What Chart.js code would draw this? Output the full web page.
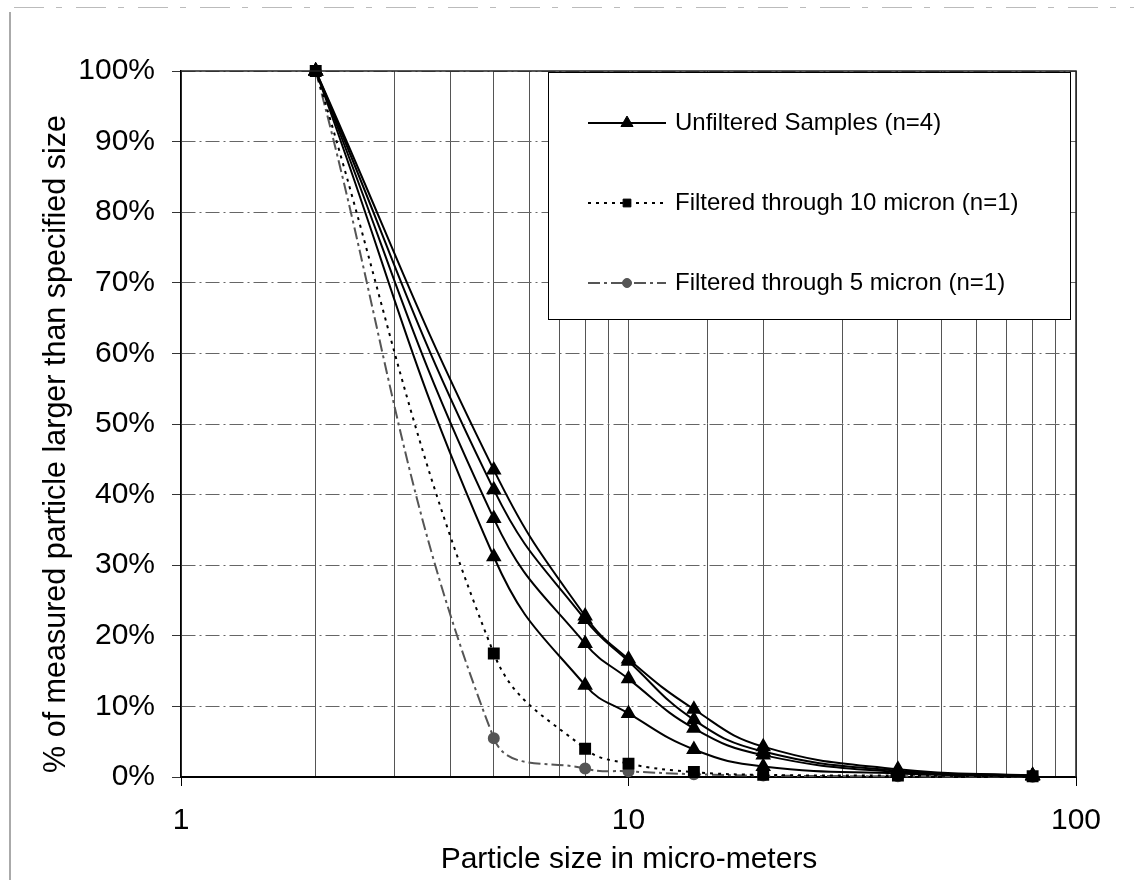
<!DOCTYPE html>
<html>
<head>
<meta charset="utf-8">
<title>Particle size distribution</title>
<script src="https://cdn.jsdelivr.net/npm/chart.js@4.4.0/dist/chart.umd.min.js"></script>
<style>
  html, body { margin: 0; padding: 0; background: #fff; }
  canvas { display: block; }
</style>
</head>
<body>
<canvas id="sizeChart" width="1134" height="880"></canvas>
<script>
// particle sizes (micro-meters) and % of particles larger than that size
const sizes = [2, 5, 8, 10, 14, 20, 40, 80];
const unfilteredA = [100, 43.5, 22.8, 16.7, 9.6, 4.3, 1.1, 0.2];
const unfilteredB = [100, 40.7, 22.3, 16.4, 8.1, 3.6, 0.9, 0.2];
const unfilteredC = [100, 36.6, 18.9, 13.9, 6.9, 3.1, 0.7, 0.2];
const unfilteredD = [100, 31.2, 13.0, 9.0, 3.9, 1.5, 0.5, 0.1];
const filtered10 = [100, 17.5, 4.0, 1.9, 0.7, 0.3, 0.2, 0.1];
const filtered5 = [100, 5.5, 1.2, 0.8, 0.4, 0.2, 0.1, 0.05];

const xTickLabels = [1, 10, 100];
const yTickStep = 10;

const legendLabels = [
  "Unfiltered Samples (n=4)",
  "Filtered through 10 micron (n=1)",
  "Filtered through 5 micron (n=1)"
];

const FONT = "'Liberation Sans', Arial, sans-serif";

function pairs(ys) {
  return sizes.map((x, i) => ({ x: x, y: ys[i] }));
}

const unfilteredStyle = {
  borderColor: "#000",
  borderWidth: 2,
  pointStyle: "triangle",
  pointRadius: 7,
  pointBackgroundColor: "#000",
  pointBorderColor: "#000",
  tension: 0.45,
};

const datasets = [
  Object.assign({ label: legendLabels[0], data: pairs(unfilteredA) }, unfilteredStyle),
  Object.assign({ label: legendLabels[0], data: pairs(unfilteredB) }, unfilteredStyle),
  Object.assign({ label: legendLabels[0], data: pairs(unfilteredC) }, unfilteredStyle),
  Object.assign({ label: legendLabels[0], data: pairs(unfilteredD) }, unfilteredStyle),
  {
    label: legendLabels[1],
    data: pairs(filtered10),
    borderColor: "#000",
    borderWidth: 2,
    borderDash: [3, 5],
    pointStyle: "rect",
    pointRadius: 7,
    pointBackgroundColor: "#000",
    pointBorderColor: "#000",
    tension: 0.4,
  },
  {
    label: legendLabels[2],
    data: pairs(filtered5),
    borderColor: "#555",
    borderWidth: 2,
    borderDash: [12, 4, 3, 4],
    pointStyle: "circle",
    pointRadius: 5,
    pointBackgroundColor: "#555",
    pointBorderColor: "#555",
    tension: 0.4,
  },
];

// which dataset each legend row takes its look from
const legendRows = [0, 4, 5];

// frame, axis titles and the boxed legend inside the plot
const decorations = {
  id: "decorations",
  afterDatasetsDraw(chart) {
    const ctx = chart.ctx;
    const a = chart.chartArea;
    ctx.save();

    // top and right edges of the plot
    ctx.strokeStyle = "#222";
    ctx.lineWidth = 1.5;
    ctx.beginPath();
    ctx.moveTo(a.left, a.top);
    ctx.lineTo(a.right, a.top);
    ctx.lineTo(a.right, a.bottom);
    ctx.stroke();

    // legend box
    const box = { left: 548, top: 72, right: 1070, bottom: 319 };
    ctx.fillStyle = "#fff";
    ctx.fillRect(box.left, box.top, box.right - box.left, box.bottom - box.top);
    ctx.strokeStyle = "#000";
    ctx.lineWidth = 1;
    ctx.strokeRect(box.left + 0.5, box.top + 0.5, box.right - box.left, box.bottom - box.top);

    ctx.font = "24px " + FONT;
    ctx.textBaseline = "alphabetic";
    ctx.textAlign = "left";
    legendRows.forEach((di, row) => {
      const ds = chart.data.datasets[di];
      const y = 123 + row * 80;
      ctx.save();
      ctx.strokeStyle = ds.borderColor;
      ctx.lineWidth = 2;
      ctx.setLineDash(ds.borderDash || []);
      ctx.beginPath();
      ctx.moveTo(588, y);
      ctx.lineTo(666, y);
      ctx.stroke();
      ctx.setLineDash([]);
      ctx.fillStyle = ds.pointBackgroundColor;
      ctx.strokeStyle = ds.pointBorderColor;
      ctx.lineWidth = 1;
      const r = ds.pointStyle === "triangle" ? 7 : (ds.pointStyle === "rect" ? 5.5 : 4.5);
      Chart.helpers.drawPoint(ctx, { pointStyle: ds.pointStyle, radius: r, rotation: 0, borderWidth: 1 }, 627, y);
      ctx.restore();
      ctx.fillStyle = "#000";
      ctx.fillText(legendLabels[row], 675, y + 7);
    });

    // axis titles
    ctx.fillStyle = "#000";
    ctx.font = "30px " + FONT;
    ctx.textAlign = "center";
    ctx.fillText("Particle size in micro-meters", 629, 868);
    ctx.save();
    ctx.translate(65, 444);
    ctx.rotate(-Math.PI / 2);
    ctx.font = "30.5px " + FONT;
    ctx.fillText("% of measured particle larger than specified size", 0, 0);
    ctx.restore();

    // faint page edge from the scan
    ctx.strokeStyle = "#aaa";
    ctx.lineWidth = 2;
    ctx.beginPath();
    ctx.moveTo(10, 12);
    ctx.lineTo(10, 880);
    ctx.stroke();
    ctx.strokeStyle = "#bbb";
    ctx.lineWidth = 1;
    ctx.setLineDash([30, 12, 6, 14]);
    ctx.beginPath();
    ctx.moveTo(14, 7.5);
    ctx.lineTo(1134, 7.5);
    ctx.stroke();

    ctx.restore();
  },
};

const ctx = document.getElementById("sizeChart").getContext("2d");
const sizeChart = new Chart(ctx, {
  type: "line",
  data: { datasets: datasets },
  options: {
    responsive: false,
    animation: false,
    devicePixelRatio: 1,
    layout: { padding: { top: 71, right: 58, left: 0, bottom: 0 } },
    elements: { point: { borderWidth: 1 } },
    datasets: { line: { clip: 12 } },
    plugins: {
      legend: { display: false },
      tooltip: { enabled: false },
    },
    scales: {
      x: {
        type: "logarithmic",
        min: 1,
        max: 100,
        afterFit: (s) => { s.height = 880 - 777; },
        grid: {
          color: "#555",
          lineWidth: 1,
          tickLength: 9,
          tickColor: (c) => (c.tick && xTickLabels.includes(c.tick.value) ? "#000" : "rgba(0,0,0,0)"),
        },
        border: { color: "#000", width: 2 },
        ticks: {
          autoSkip: false,
          maxRotation: 0,
          padding: 17,
          color: "#000",
          font: { family: FONT, size: 30 },
          callback: (v) => (xTickLabels.includes(v) ? String(v) : ""),
        },
      },
      y: {
        type: "linear",
        min: 0,
        max: 100,
        afterFit: (s) => { s.width = 181; },
        grid: {
          color: "#666",
          lineWidth: 1,
          tickLength: 9,
          tickColor: "#333",
        },
        border: { color: "#000", width: 1.5, dash: [14, 4, 2, 4] },
        ticks: {
          stepSize: yTickStep,
          padding: 17,
          color: "#000",
          font: { family: FONT, size: 30 },
          callback: (v) => v + "%",
        },
      },
    },
  },
  plugins: [decorations],
});
</script>
</body>
</html>
